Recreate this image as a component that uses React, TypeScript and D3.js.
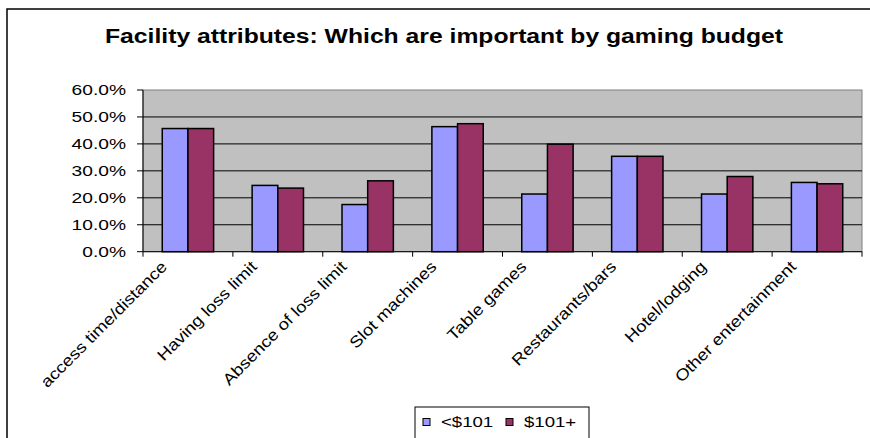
import React from "react";
import * as d3 from "d3";

const categories = [
  "access time/distance",
  "Having loss limit",
  "Absence of loss limit",
  "Slot machines",
  "Table games",
  "Restaurants/bars",
  "Hotel/lodging",
  "Other entertainment",
];
const seriesNames = ["<$101", "$101+"];
const lowBudget = [45.7, 24.6, 17.5, 46.4, 21.4, 35.4, 21.4, 25.7];
const highBudget = [45.7, 23.6, 26.3, 47.5, 39.9, 35.4, 27.9, 25.2];
const yTicks = [0, 10, 20, 30, 40, 50, 60];
const titleText = "Facility attributes: Which are important by gaming budget";

const seriesColors = ["#9999FF", "#993366"];
const FONT = "'Liberation Sans', Arial, sans-serif";

export default function App() {
  const W = 870;
  const H = 438;
  const plot = { left: 143, right: 862, top: 90, bottom: 251.7 };

  const x0 = d3.scaleBand<string>().domain(categories).range([plot.left, plot.right]).padding(0);
  const x1 = d3
    .scaleBand<string>()
    .domain(seriesNames)
    .range([0, x0.bandwidth()])
    .paddingInner(0)
    .paddingOuter(0.75);
  const y = d3.scaleLinear().domain([0, 60]).range([plot.bottom, plot.top]);
  const fmt = d3.format(".1f");
  const series = [lowBudget, highBudget];

  return (
    <svg
      width={W}
      height={H}
      style={{ position: "absolute", left: 0, top: 0, background: "#fff" }}
      fontFamily={FONT}
    >
      {/* fragment of text above the frame */}
      <text x={414} y={-4} fontFamily="'Liberation Serif', serif" fontSize={16} fill="#555">
        g
      </text>
      {/* outer frame */}
      <rect x={7} y={9} width={W + 20} height={H + 20} fill="#fff" stroke="#000" strokeWidth={1.5} />

      {/* title */}
      <text
        x={105}
        y={42.5}
        fontSize={19.5}
        fontWeight="bold"
        textLength={678}
        lengthAdjust="spacingAndGlyphs"
        fill="#000"
      >
        {titleText}
      </text>

      {/* plot background */}
      <rect
        x={plot.left}
        y={plot.top}
        width={plot.right - plot.left}
        height={plot.bottom - plot.top}
        fill="#C0C0C0"
        stroke="#808080"
        strokeWidth={1}
      />
      {/* gridlines */}
      {yTicks
        .filter((t) => t > 0 && t < 60)
        .map((t) => (
          <line key={t} x1={plot.left} x2={plot.right} y1={y(t)} y2={y(t)} stroke="#000" strokeWidth={1} />
        ))}

      {/* bars */}
      {categories.map((c, i) => (
        <g key={c} transform={`translate(${x0(c)},0)`}>
          {seriesNames.map((s, j) => (
            <rect
              key={s}
              x={x1(s)}
              y={y(series[j][i])}
              width={x1.bandwidth()}
              height={y(0) - y(series[j][i])}
              fill={seriesColors[j]}
              stroke="#000"
              strokeWidth={1.5}
            />
          ))}
        </g>
      ))}

      {/* y axis */}
      <line x1={plot.left} x2={plot.left} y1={plot.top} y2={plot.bottom} stroke="#000" />
      {yTicks.map((t) => (
        <g key={t}>
          <line x1={plot.left - 6} x2={plot.left} y1={y(t)} y2={y(t)} stroke="#000" />
          <text
            transform={`translate(126,${y(t) + 5}) scale(1.28,1)`}
            textAnchor="end"
            fontSize={15}
            fill="#000"
          >
            {fmt(t)}%
          </text>
        </g>
      ))}

      {/* x axis */}
      <line x1={plot.left} x2={plot.right} y1={plot.bottom} y2={plot.bottom} stroke="#000" />
      {[...categories.map((c) => x0(c) as number), plot.right].map((xv, i) => (
        <line key={i} x1={xv} x2={xv} y1={plot.bottom} y2={plot.bottom + 5} stroke="#000" />
      ))}
      {categories.map((c) => {
        const cx = (x0(c) as number) + x0.bandwidth() / 2;
        return (
          <text
            key={c}
            transform={`translate(${cx - 20},${plot.bottom + 16}) rotate(-45) scale(1.15,1)`}
            textAnchor="end"
            fontSize={16}
            fill="#000"
          >
            {c}
          </text>
        );
      })}

      {/* legend */}
      <rect x={415} y={407} width={174} height={50} fill="#fff" stroke="#000" strokeWidth={1} />
      {seriesNames.map((s, j) => {
        const sx = [423, 506][j];
        const tx = [441, 524][j];
        return (
          <g key={s}>
            <rect x={sx} y={418.5} width={7} height={7} fill={seriesColors[j]} stroke="#000" strokeWidth={1} />
            <text transform={`translate(${tx},426.7) scale(1.24,1)`} fontSize={15} fill="#000">
              {s}
            </text>
          </g>
        );
      })}
    </svg>
  );
}
